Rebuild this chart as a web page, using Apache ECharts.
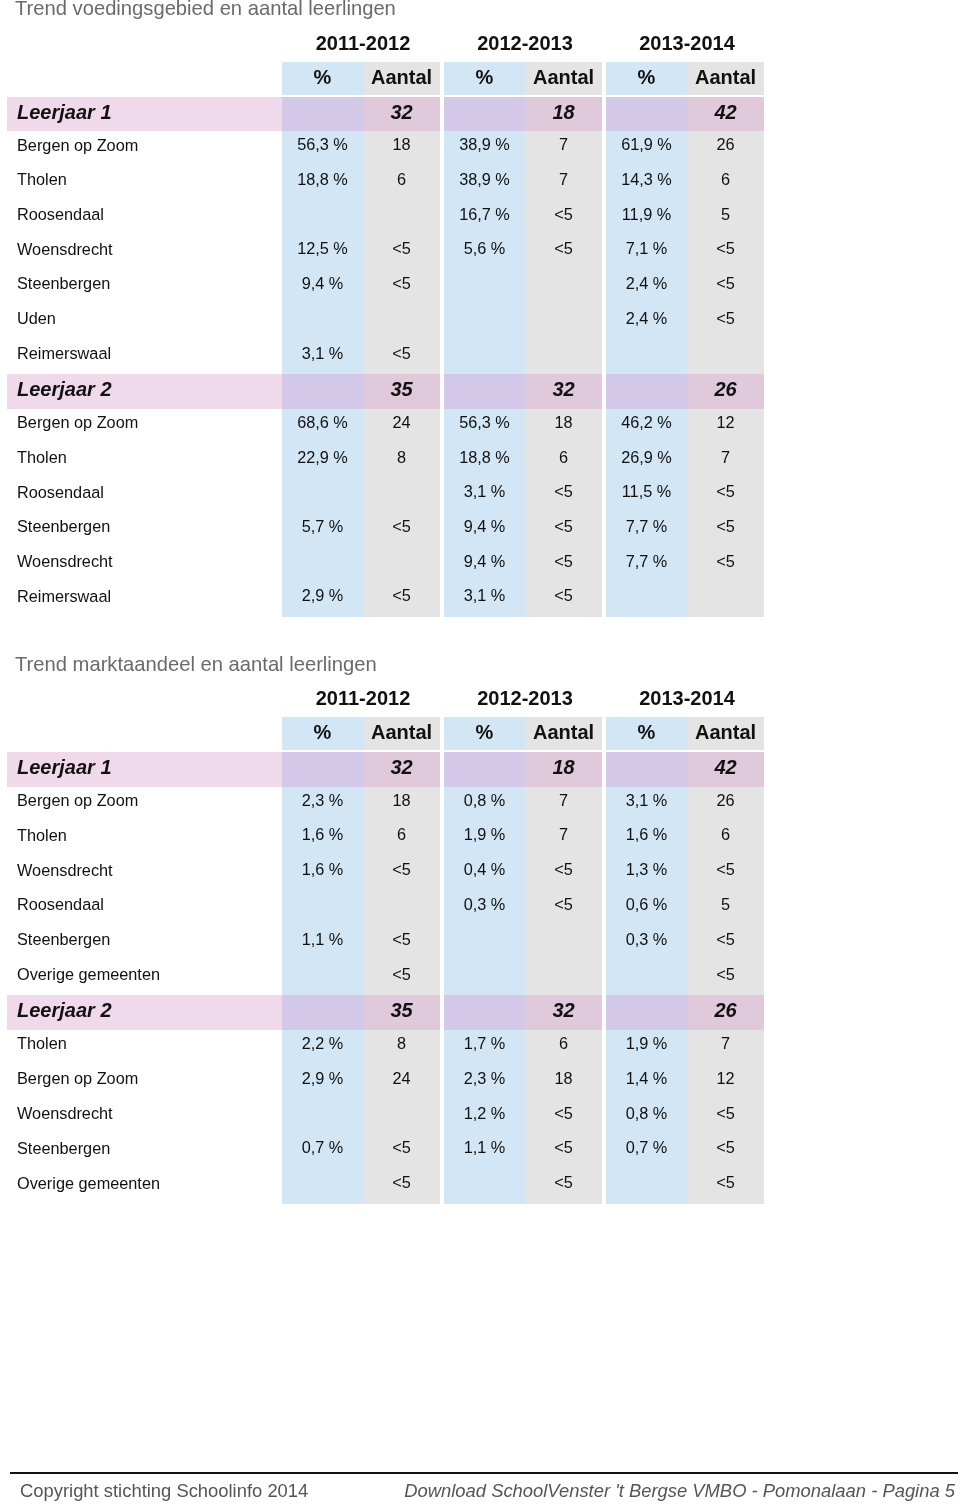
<!DOCTYPE html>
<html>
<head>
<meta charset="utf-8">
<script src="https://cdn.jsdelivr.net/npm/echarts@6/dist/echarts.min.js"></script>
<style>
  html, body { margin: 0; padding: 0; background: #fff; }
  #chart { width: 960px; height: 1504px; }
</style>
</head>
<body>
<div id="chart"></div>
<script>
// jaren en kolomkoppen
const years = ['2011-2012', '2012-2013', '2013-2014'];
const subHeads = ['%', 'Aantal'];

// tabel 1: voedingsgebied
const t1Title = 'Trend voedingsgebied en aantal leerlingen';
const t1Rows = ['Leerjaar 1', 'Bergen op Zoom', 'Tholen', 'Roosendaal', 'Woensdrecht', 'Steenbergen', 'Uden', 'Reimerswaal',
                'Leerjaar 2', 'Bergen op Zoom', 'Tholen', 'Roosendaal', 'Steenbergen', 'Woensdrecht', 'Reimerswaal'];
const t1Pct2011 = [null, 56.3, 18.8, null, 12.5, 9.4, null, 3.1, null, 68.6, 22.9, null, 5.7, null, 2.9];
const t1Cnt2011 = [32, 18, 6, null, '<5', '<5', null, '<5', 35, 24, 8, null, '<5', null, '<5'];
const t1Pct2012 = [null, 38.9, 38.9, 16.7, 5.6, null, null, null, null, 56.3, 18.8, 3.1, 9.4, 9.4, 3.1];
const t1Cnt2012 = [18, 7, 7, '<5', '<5', null, null, null, 32, 18, 6, '<5', '<5', '<5', '<5'];
const t1Pct2013 = [null, 61.9, 14.3, 11.9, 7.1, 2.4, 2.4, null, null, 46.2, 26.9, 11.5, 7.7, 7.7, null];
const t1Cnt2013 = [42, 26, 6, 5, '<5', '<5', '<5', null, 26, 12, 7, '<5', '<5', '<5', null];

// tabel 2: marktaandeel
const t2Title = 'Trend marktaandeel en aantal leerlingen';
const t2Rows = ['Leerjaar 1', 'Bergen op Zoom', 'Tholen', 'Woensdrecht', 'Roosendaal', 'Steenbergen', 'Overige gemeenten',
                'Leerjaar 2', 'Tholen', 'Bergen op Zoom', 'Woensdrecht', 'Steenbergen', 'Overige gemeenten'];
const t2Pct2011 = [null, 2.3, 1.6, 1.6, null, 1.1, null, null, 2.2, 2.9, null, 0.7, null];
const t2Cnt2011 = [32, 18, 6, '<5', null, '<5', '<5', 35, 8, 24, null, '<5', '<5'];
const t2Pct2012 = [null, 0.8, 1.9, 0.4, 0.3, null, null, null, 1.7, 2.3, 1.2, 1.1, null];
const t2Cnt2012 = [18, 7, 7, '<5', '<5', null, null, 32, 6, 18, '<5', '<5', '<5'];
const t2Pct2013 = [null, 3.1, 1.6, 1.3, 0.6, 0.3, null, null, 1.9, 1.4, 0.8, 0.7, null];
const t2Cnt2013 = [42, 26, 6, '<5', 5, '<5', '<5', 26, 7, 12, '<5', '<5', '<5'];

const footLeft = 'Copyright stichting Schoolinfo 2014';
const footRight = "Download SchoolVenster 't Bergse VMBO - Pomonalaan - Pagina 5";

const FONT = 'Liberation Sans';
const colCats = ['%', 'Aantal', '%', 'Aantal', '%', 'Aantal'];

function fmtPct(v) { return v == null ? '' : v.toFixed(1).replace('.', ',') + ' %'; }
function fmtCnt(v) { return v == null ? '' : String(v); }
function isLj(name) { return name.indexOf('Leerjaar') === 0; }

function buildCells(rows, pct, cnt) {
  const cells = [];
  rows.forEach(function (name, r) {
    const ri = r + 1;
    const lj = isLj(name);
    if (lj) cells.push({ value: [0, ri], kind: 'lbg', text: '' });
    for (let y = 0; y < 3; y++) {
      cells.push({ value: [2 * y, ri], kind: lj ? 'ljp' : 'p', text: fmtPct(pct[y][r]) });
      cells.push({ value: [2 * y + 1, ri], kind: lj ? 'ljc' : 'c', text: fmtCnt(cnt[y][r]) });
    }
  });
  for (let c = 0; c < 6; c++) {
    cells.push({ value: [c, 0], kind: c % 2 ? 'hc' : 'hp', text: subHeads[c % 2] });
  }
  return cells;
}

const fills = {
  p: '#d3e6f5', c: '#e4e4e4', hp: '#d3e6f5', hc: '#e4e4e4',
  ljp: '#d3c8e7', ljc: '#e1c9dc', lbg: '#f1d9ec'
};

function makeRender(cells) {
  return function (params, api) {
    const cell = cells[params.dataIndex];
    const col = api.value(0);
    const p = api.coord([col, api.value(1)]);
    const s = api.size([1, 1]);
    // afronden op hele pixels, anders lichte naden tussen rijen
    let x = Math.round(p[0] - s[0] / 2), x2 = Math.round(p[0] + s[0] / 2);
    let y = Math.round(p[1] - s[1] / 2), y2 = Math.round(p[1] + s[1] / 2);
    const kind = cell.kind;
    if (kind === 'lbg') {
      x = params.coordSys.x - 275; x2 = params.coordSys.x;
    } else if (col % 2 === 1) {
      x2 -= 4;
    }
    if (kind === 'hp' || kind === 'hc') y2 -= 2;
    const w = x2 - x, h = y2 - y;
    let font = 'normal 16.3px "' + FONT + '"', dy = -2.5;
    if (kind === 'hp' || kind === 'hc') { font = 'bold 20px "' + FONT + '"'; dy = 0; }
    if (kind === 'ljc' || kind === 'ljp') { font = 'italic bold 20px "' + FONT + '"'; dy = -1; }
    return {
      type: 'group',
      children: [
        { type: 'rect', shape: { x: x, y: y, width: w, height: h }, style: { fill: fills[kind] } },
        { type: 'text', style: { x: x + w / 2, y: y + h / 2 + dy, text: cell.text, font: font,
            fill: '#111', align: 'center', verticalAlign: 'middle' } }
      ]
    };
  };
}

const cells1 = buildCells(t1Rows, [t1Pct2011, t1Pct2012, t1Pct2013], [t1Cnt2011, t1Cnt2012, t1Cnt2013]);
const cells2 = buildCells(t2Rows, [t2Pct2011, t2Pct2012, t2Pct2013], [t2Cnt2011, t2Cnt2012, t2Cnt2013]);

function yAxisFor(gi, rows) {
  return {
    type: 'category', gridIndex: gi, inverse: true, z: 5,
    data: [''].concat(rows),
    axisLine: { show: false }, axisTick: { show: false }, splitLine: { show: false },
    axisLabel: {
      align: 'left', margin: 265, interval: 0,
      formatter: function (v) { return v === '' ? '' : (isLj(v) ? '{lj|' + v + '}' : '{row|' + v + '}'); },
      rich: {
        lj: { fontFamily: FONT, fontSize: 20, fontWeight: 'bold', fontStyle: 'italic', color: '#111', padding: [0, 0, 2, 0] },
        row: { fontFamily: FONT, fontSize: 16.3, color: '#111', padding: [0, 0, 5, 0] }
      }
    }
  };
}
function colAxis(gi) {
  return { type: 'category', gridIndex: gi, data: colCats, show: false };
}
function yearAxis(gi) {
  return {
    type: 'category', gridIndex: gi, position: 'top', data: years,
    axisLine: { show: false }, axisTick: { show: false },
    axisLabel: { margin: 8, fontFamily: FONT, fontSize: 20, fontWeight: 'bold', color: '#111' }
  };
}

const chart = echarts.init(document.getElementById('chart'));
chart.setOption({
  animation: false,
  textStyle: { fontFamily: FONT },
  title: [
    { text: t1Title, left: 10, top: -6, textStyle: { fontFamily: FONT, fontSize: 20.2, fontWeight: 'normal', color: '#6a6a6a' } },
    { text: t2Title, left: 10, top: 650, textStyle: { fontFamily: FONT, fontSize: 20.2, fontWeight: 'normal', color: '#6a6a6a' } }
  ],
  grid: [
    { left: 282, top: 62, width: 486, height: 555 },
    { left: 282, top: 717, width: 486, height: 487 }
  ],
  xAxis: [colAxis(0), yearAxis(0), colAxis(1), yearAxis(1)],
  yAxis: [yAxisFor(0, t1Rows), yAxisFor(1, t2Rows)],
  series: [
    { type: 'custom', xAxisIndex: 0, yAxisIndex: 0, z: 1, data: cells1, renderItem: makeRender(cells1) },
    { type: 'custom', xAxisIndex: 2, yAxisIndex: 1, z: 1, data: cells2, renderItem: makeRender(cells2) }
  ],
  graphic: [
    { type: 'line', shape: { x1: 10, y1: 1473, x2: 958, y2: 1473 }, style: { stroke: '#111', lineWidth: 2 } },
    { type: 'text', left: 20, top: 1483, style: { text: footLeft, font: 'normal 18.4px "' + FONT + '"', fill: '#555' } },
    { type: 'text', right: 5, top: 1483, style: { text: footRight, font: 'italic 18.4px "' + FONT + '"', fill: '#555' } }
  ]
});
</script>
</body>
</html>
